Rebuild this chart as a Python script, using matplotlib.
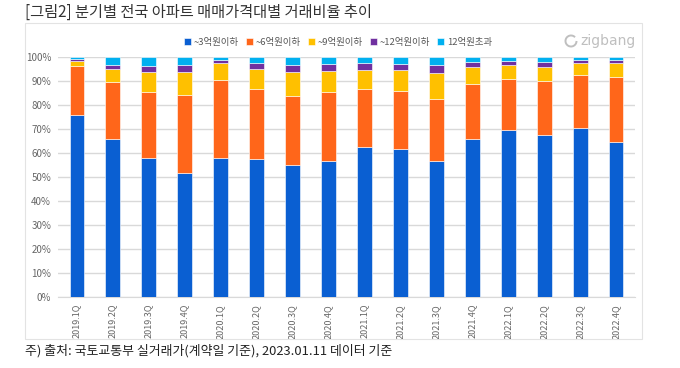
import matplotlib.pyplot as plt
import matplotlib.patches as patches
import numpy as np

plt.rcParams['font.family'] = ['Noto Sans CJK KR', 'DejaVu Sans']

# 분기
quarters = ["2019.1Q", "2019.2Q", "2019.3Q", "2019.4Q",
            "2020.1Q", "2020.2Q", "2020.3Q", "2020.4Q",
            "2021.1Q", "2021.2Q", "2021.3Q", "2021.4Q",
            "2022.1Q", "2022.2Q", "2022.3Q", "2022.4Q"]

# 가격대별 거래비율 (%)
under3 = [75.7, 65.9, 58.1, 51.5, 58.0, 57.4, 55.1, 56.6,
          62.7, 61.7, 56.7, 66.0, 69.6, 67.5, 70.5, 64.4]
under6 = [20.4, 23.7, 27.5, 32.8, 32.4, 29.4, 28.7, 29.0,
          23.8, 24.3, 25.8, 22.9, 21.2, 22.5, 22.0, 27.4]
under9 = [2.2, 5.4, 8.0, 9.6, 7.1, 8.2, 10.1, 8.7,
          8.2, 8.6, 10.7, 6.8, 5.7, 5.8, 4.9, 5.7]
under12 = [1.0, 1.8, 2.8, 2.9, 1.4, 2.5, 2.9, 2.9,
           2.8, 2.5, 3.3, 2.1, 1.8, 2.0, 1.2, 1.1]
over12 = [0.7, 3.2, 3.6, 3.2, 1.1, 2.5, 3.2, 2.8,
          2.5, 2.9, 3.5, 2.2, 1.7, 2.2, 1.4, 1.4]

series = [under3, under6, under9, under12, over12]
labels = ["~3억원이하", "~6억원이하", "~9억원이하", "~12억원이하", "12억원초과"]
colors = ["#0A5FD2", "#FF661A", "#FFC000", "#7030A0", "#00B0F0"]

fig = plt.figure(figsize=(6.8, 3.68), dpi=100)
ax = fig.add_axes([58 / 680, 1 - 297 / 368, (635 - 58) / 680, (297 - 57) / 368])

x = np.arange(len(quarters))
bottom = np.zeros(len(quarters))
for vals, lab, col in zip(series, labels, colors):
    v = np.array(vals) / 100
    ax.bar(x, v, bottom=bottom, width=0.4, color=col, label=lab,
           edgecolor="white", linewidth=0.4, zorder=3)
    bottom += v

ax.set_ylim(0, 1)
ax.set_xlim(-0.52, len(quarters) - 0.48)
ax.set_yticks(np.arange(0, 1.01, 0.1))
ax.set_yticklabels([f"{int(round(t * 100))}%" for t in np.arange(0, 1.01, 0.1)],
                   fontsize=7, color="#666666")
ax.set_xticks(x)
ax.set_xticklabels(quarters, rotation=90, fontsize=6.5, color="#666666")
ax.tick_params(length=0, pad=5)
ax.grid(axis="y", color="#D9D9D9", linewidth=1, zorder=0)
for s in ["top", "right", "left"]:
    ax.spines[s].set_visible(False)
ax.spines["bottom"].set_color("#D9D9D9")

# 범례
fig.legend(loc="center", bbox_to_anchor=(0.497, 1 - 42 / 368), ncol=5,
           frameon=False, fontsize=6.8, handlelength=0.7, handleheight=0.7,
           handletextpad=0.3, columnspacing=0.8, labelcolor="#595959")

# 테두리
fig.patches.append(patches.Rectangle((25 / 680, 1 - 339 / 368), (642 - 25) / 680,
                                     (339 - 23) / 368, transform=fig.transFigure,
                                     fill=False, edgecolor="#E3E3E3", linewidth=0.8))

# 로고
fig.patches.append(patches.Arc((571 / 680, 1 - 41 / 368), 11 / 680, 11 / 368,
                               theta1=60, theta2=360, transform=fig.transFigure,
                               color="#BFBFBF", linewidth=1.4))
fig.text(580 / 680, 1 - 41 / 368, "zigbang", fontsize=10, color="#BFBFBF",
         ha="left", va="center", family="DejaVu Sans")

fig.text(25 / 680, 1 - 12 / 368, "[그림2] 분기별 전국 아파트 매매가격대별 거래비율 추이",
         fontsize=11, color="#333333", ha="left", va="center")
fig.text(25 / 680, 1 - 351 / 368, "주) 출처: 국토교통부 실거래가(계약일 기준), 2023.01.11 데이터 기준",
         fontsize=9.3, color="#222222", ha="left", va="center")

fig.savefig("out.png", dpi=100)
